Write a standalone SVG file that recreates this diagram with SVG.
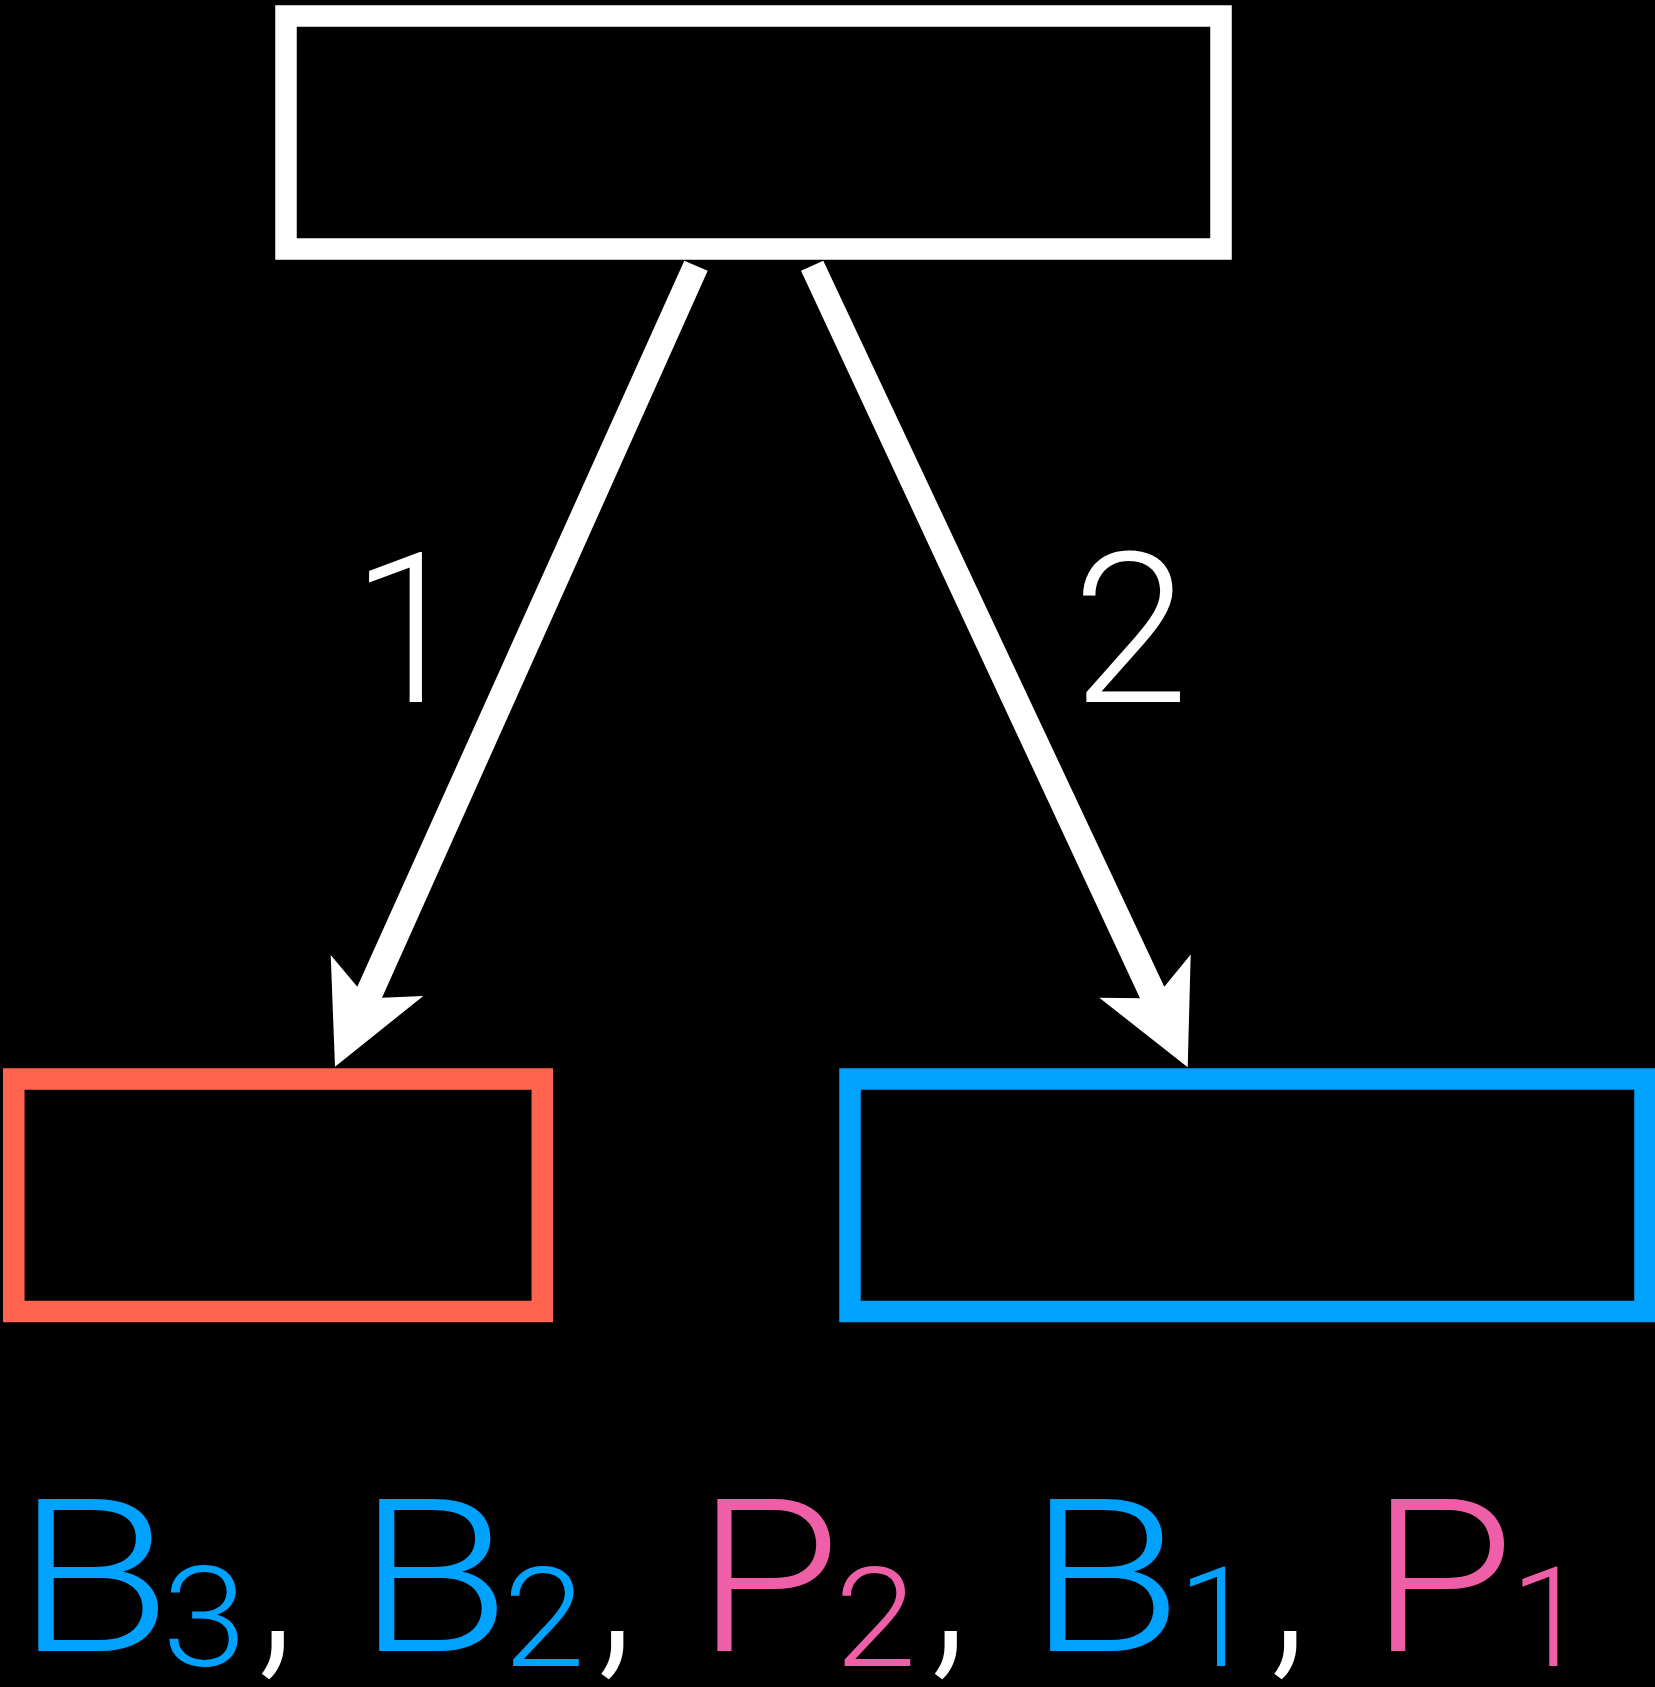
<svg xmlns="http://www.w3.org/2000/svg" width="1655" height="1687" viewBox="0 0 1655 1687">
<style>
.box{fill:none;stroke-width:21.5}
.lbl{font-family:Roboto,"Liberation Sans",sans-serif;font-weight:300;text-anchor:middle}
.big{font-size:213px}
.sub{font-size:139px}
.num{font-size:210px;fill:#fff}
.b{fill:#00A2FF}
.p{fill:#EF5FA7}
.w{fill:#fff}
</style>
<rect x="0" y="0" width="1655" height="1687" fill="#000"/>
<g id="top-node"><rect class="box" x="286" y="16" width="935" height="233" stroke="#fff"/></g>
<g id="left-node"><rect class="box" x="13.8" y="1079" width="528.5" height="232.5" stroke="#FF644E"/></g>
<g id="right-node"><rect class="box" x="850" y="1079" width="795" height="232.5" stroke="#00A2FF"/></g>
<g id="connectors" fill="#fff">
<polygon points="684.3,260.7 707.7,270.7 382,997.7 423.3,996 335,1066.7 330.7,955 357.3,986.7"/>
<polygon points="823.3,260.7 801,270.7 1140,998.3 1099.3,997.7 1187.7,1067.3 1190.7,954.5 1164.3,986.7"/>
</g>
<g id="edge-labels">
<text class="lbl num" x="409" y="701.7">1</text>
<text class="lbl num" x="1130.5" y="701.7">2</text>
</g>
<g id="sequence">
<text class="lbl big b" transform="translate(93.7,1651) scale(1.2,1)">B</text>
<text class="lbl sub b" transform="translate(204.4,1666) scale(1.1,1)">3</text>
<text class="lbl big w" x="276" y="1651">,</text>
<text class="lbl big b" transform="translate(433.5,1651) scale(1.18,1)">B</text>
<text class="lbl sub b" transform="translate(544,1666) scale(1.06,1)">2</text>
<text class="lbl big w" x="615.5" y="1651">,</text>
<text class="lbl big p" transform="translate(768.4,1651) scale(1.1,1)">P</text>
<text class="lbl sub p" transform="translate(875.5,1666) scale(1.06,1)">2</text>
<text class="lbl big w" x="949" y="1651">,</text>
<text class="lbl big b" transform="translate(1105,1651) scale(1.19,1)">B</text>
<text class="lbl sub b" x="1216.6" y="1666">1</text>
<text class="lbl big w" x="1288.4" y="1651">,</text>
<text class="lbl big p" transform="translate(1442,1651) scale(1.1,1)">P</text>
<text class="lbl sub p" x="1548.7" y="1666">1</text>
</g>
</svg>
